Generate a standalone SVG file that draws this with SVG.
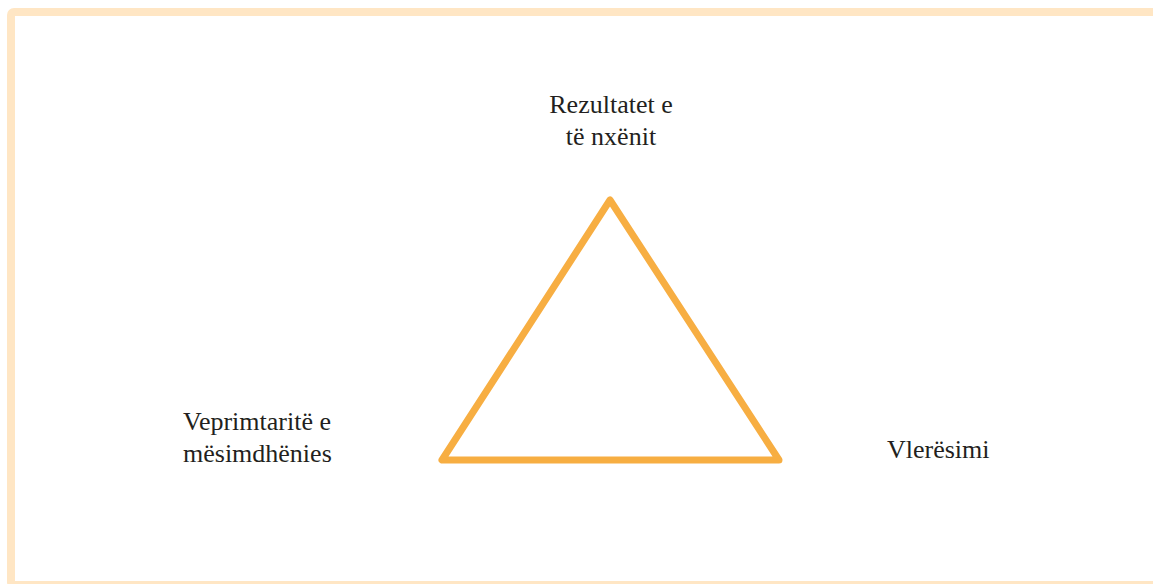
<svg xmlns="http://www.w3.org/2000/svg" width="1153" height="584" viewBox="0 0 1153 584">
<style>
.lbl{font-family:"Liberation Serif","Times New Roman",serif;font-size:26px;fill:#231F20}
.frame{fill:none;stroke:#FFE6C4;stroke-width:8}
.tri{fill:none;stroke:#F7AE42;stroke-width:7;stroke-linejoin:round;stroke-linecap:round}
</style>
<rect width="1153" height="584" fill="#FFFFFF"/>
<rect class="frame" x="11" y="12" width="1160" height="573" rx="3"/>
<g id="connectors">
<polygon class="tri" points="610,200 442,460 779,460"/>
</g>
<g id="node-top">
<text class="lbl" x="611" y="113" text-anchor="middle">Rezultatet e</text>
<text class="lbl" x="611" y="145" text-anchor="middle">të nxënit</text>
</g>
<g id="node-left">
<text class="lbl" x="183" y="430">Veprimtaritë e</text>
<text class="lbl" x="183" y="462">mësimdhënies</text>
</g>
<g id="node-right">
<text class="lbl" x="887" y="458">Vlerësimi</text>
</g>
</svg>
